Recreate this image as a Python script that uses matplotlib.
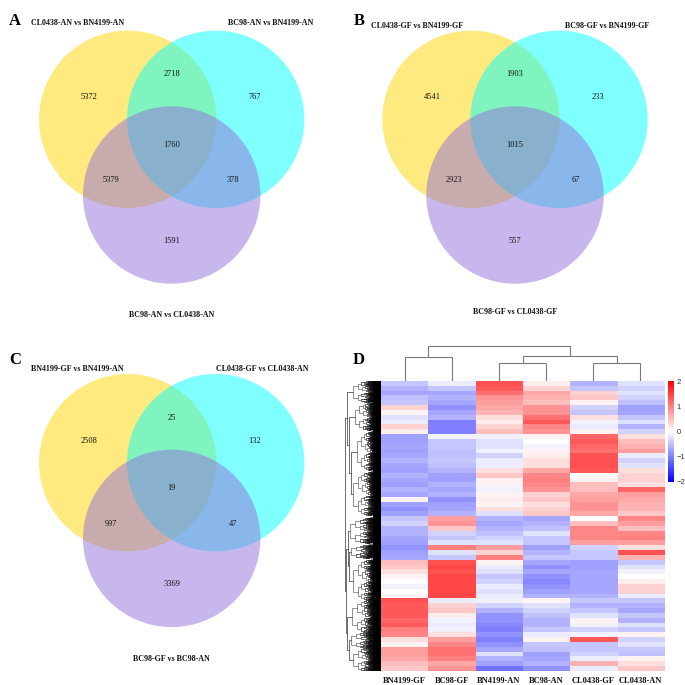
# panels A-C: three-set venn diagrams, panel D: clustered heatmap of expression
import matplotlib
matplotlib.use("Agg")
import matplotlib.pyplot as plt
from matplotlib.colors import LinearSegmentedColormap
from matplotlib.patches import Circle, Rectangle
import numpy as np

plt.rcParams["font.family"] = ["Liberation Serif", "DejaVu Serif"]

# venn counts, order: left only, left+right, right only, all, left+bottom, right+bottom, bottom only
counts_a = [5372, 2718, 767, 1760, 5379, 378, 1591]
counts_b = [4541, 1903, 233, 1015, 2923, 67, 557]
counts_c = [2508, 25, 132, 19, 997, 47, 3369]

names_a = ["CL0438-AN vs BN4199-AN", "BC98-AN vs BN4199-AN", "BC98-AN vs CL0438-AN"]
names_b = ["CL0438-GF vs BN4199-GF", "BC98-GF vs BN4199-GF", "BC98-GF vs CL0438-GF"]
names_c = ["BN4199-GF vs BN4199-AN", "CL0438-GF vs CL0438-AN", "BC98-GF vs BC98-AN"]

# heatmap columns, read by eye in 60 bands from top to bottom
samples = ["BN4199-GF", "BC98-GF", "BN4199-AN", "BC98-AN", "CL0438-GF", "CL0438-AN"]
bn4199_gf = [-.45, -.6, -.7, -.5, -.45, .35, .1, -.25, -.15, .35, .15, -.75, -.75, -.7, -.75, -.7, -.6, -.7, -.75, -.6,
             -.7, -.75, -.6, -.7, .1, -.75, -.85, -.75, -.45, -.35, -.6, -.6, -.7, -.75, -.85, -.75, -.7, .5, .45, .25,
             .1, 0, -.1, 0, .1, 1.35, 1.3, 1.3, 1.3, 1.2, 1.3, 1.0, .95, .25, .1, .75, .75, .7, .5, .45]
bc98_gf = [-.15, -.45, -.7, -.6, -.7, -.85, -.7, -.6, -1.0, -1.0, -1.0, -.1, -.45, -.45, -.5, -.5, -.45, -.5, -.6, -.75,
           -.75, -.6, -.7, -.6, -.85, -.75, -.7, -.6, .75, .85, .45, -.35, -.45, -.25, 1.0, -.25, -.45, 1.35, 1.45, 1.35,
           1.45, 1.45, 1.45, 1.45, 1.45, -.15, .35, .45, .15, -.1, -.15, -.1, .25, .75, .95, 1.1, 1.1, 1.0, .7, .85]
bn4199_an = [1.35, 1.3, 1.1, .85, .75, .7, .6, .25, .15, .35, .5, -.1, -.25, -.25, -.1, -.35, -.15, -.15, .25, .45,
             .1, .1, -.1, .1, .15, .1, .25, -.25, -.6, -.7, -.6, -.5, -.35, -.25, .75, .35, 1.0, .1, -.15, -.25,
             -.45, -.35, -.15, -.25, -.15, -.1, -.35, -.6, -.85, -.85, -.95, -1.0, -.85, -1.0, -.85, -.7, -.25, -.6, -.75, -1.1]
bc98_an = [.15, .35, .7, .6, .5, .85, .85, 1.1, 1.3, .95, .85, .1, 0, -.1, .1, .15, .25, .25, .7, .95,
           1.0, .95, .85, .35, .45, .25, .35, .45, -.7, -.6, -.5, -.25, -.45, -.45, -.75, -.6, -.45, -.7, -.85, -.7,
           -.85, -.95, -.85, -.75, -.6, .1, -.25, -.35, -.5, -.6, -.6, -.45, -.15, .1, -.45, -.5, -.75, -.7, -.6, -.85]
cl0438_gf = [-.6, -.45, .35, .45, .1, -.35, -.45, .25, -.1, -.15, .1, 1.2, 1.3, 1.2, 1.1, 1.35, 1.35, 1.35, 1.3, 0,
             .1, .5, .5, .7, .75, .85, .85, .7, 0, .5, .95, .95, .95, .75, -.35, -.45, -.45, -.75, -.75, -.7,
             -.7, -.7, -.7, -.7, -.6, -.45, -.6, -.45, -.25, .1, -.1, -.35, -.1, 1.3, -.45, -.45, -.35, -.15, .6, -.15]
cl0438_an = [-.25, -.35, -.25, -.35, -.5, -.75, -.7, -.45, -.25, -.6, -.35, .25, .5, .6, .75, -.15, -.35, -.25, .25, .35,
             .35, .25, 1.2, .75, .7, .6, .6, .45, .95, .75, .5, .95, 1.0, .75, .25, 1.35, .6, -.45, -.25, -.1,
             0, .15, .35, .35, -.15, -.45, -.6, -.7, -.45, -.6, -.25, -.45, .1, -.35, -.25, -.45, -.5, .1, .25, .45]

# merge heights of the sample tree
merge_left = 24.5
merge_mid = 18.5
merge_right = 18.5
merge_mid_right = 25.5
merge_root = 35.5

FONT_LABEL = 5.8
SIZE = 685


# axes placed with pixel coordinates of the image (y from the top)
def axes_px(x0, y0, x1, y1):
    return fig.add_axes([x0 / SIZE, 1 - y1 / SIZE, (x1 - x0) / SIZE, (y1 - y0) / SIZE])


# one venn panel, cx is the middle of the bottom circle, top the y of the two upper circles
def draw_venn(ax, cx, top, counts, names, name_y, name_x):
    centers = [(cx - 44, top), (cx + 44, top), (cx, top + 75.7)]
    for centro, colore in zip(centers, ["gold", "cyan", "mediumpurple"]):
        ax.add_patch(Circle(centro, 88.7, facecolor=colore, edgecolor="none", alpha=0.5))

    offsets = [(-83, -22), (0, -45), (83, -22), (0, 25.5), (-61, 61), (61, 61), (0, 121.5)]
    for valore, (dx, dy) in zip(counts, offsets):
        ax.text(cx + dx, top + dy, str(valore), ha="center", va="center", fontsize=6, color="#111111")

    for nome, x, y in zip(names, name_x, name_y):
        ax.text(x, y, nome, ha="center", va="center", fontsize=FONT_LABEL, fontweight="bold", color="#111111")


fig = plt.figure(figsize=(6.85, 6.85), dpi=100)

# full figure axes for the venn panels and panel letters
sfondo = fig.add_axes([0, 0, 1, 1])
sfondo.set_xlim(0, SIZE)
sfondo.set_ylim(SIZE, 0)
sfondo.axis("off")

draw_venn(sfondo, 171.7, 119.3, counts_a, names_a, [23, 23, 315], [78, 271, 172])
draw_venn(sfondo, 515, 119.3, counts_b, names_b, [26, 26, 312], [417.5, 607, 515])
draw_venn(sfondo, 171.7, 462.7, counts_c, names_c, [369.3, 369.3, 659.3], [77, 262.7, 171.7])

for lettera, x, y in [("A", 15, 21), ("B", 359, 21), ("C", 15, 360), ("D", 359, 360)]:
    sfondo.text(x, y, lettera, ha="center", va="center", fontsize=12, fontweight="bold", color="black")

# heatmap
matrice = np.array([bn4199_gf, bc98_gf, bn4199_an, bc98_an, cl0438_gf, cl0438_an]).T
cmap = LinearSegmentedColormap.from_list("blu_rosso", ["#0000ff", "#ffffff", "#ff0000"])
ax_heat = axes_px(381, 381, 664, 671)
im = ax_heat.imshow(matrice, aspect="auto", cmap=cmap, vmin=-2, vmax=2, interpolation="nearest")
ax_heat.set_xticks(range(len(samples)))
ax_heat.set_xticklabels(samples, fontsize=6, fontweight="bold", color="#111111")
ax_heat.set_yticks([])
ax_heat.tick_params(axis="x", length=0, pad=4.5)
for lato in ax_heat.spines.values():
    lato.set_visible(False)

# colorbar
ax_bar = axes_px(667.5, 381, 674, 482)
barra = fig.colorbar(im, cax=ax_bar, ticks=[-2, -1, 0, 1, 2])
barra.outline.set_visible(False)
barra.ax.tick_params(length=0, pad=1.8, labelsize=5.5, labelcolor="#333333")
for etichetta in barra.ax.get_yticklabels():
    etichetta.set_family("Liberation Sans")

# sample tree above the heatmap
ax_top = axes_px(381, 340, 664, 381)
ax_top.set_xlim(-0.5, 5.5)
ax_top.set_ylim(0, 41)
ax_top.axis("off")
TREE_GREY = "#7a7a7a"


def bracket(ax, x0, h0, x1, h1, top):
    ax.plot([x0, x0, x1, x1], [h0, top, top, h1], color=TREE_GREY, lw=0.8, solid_joinstyle="miter")


bracket(ax_top, 0, 0, 1, 0, merge_left)
bracket(ax_top, 2, 0, 3, 0, merge_mid)
bracket(ax_top, 4, 0, 5, 0, merge_right)
bracket(ax_top, 2.5, merge_mid, 4.5, merge_right, merge_mid_right)
bracket(ax_top, 0.5, merge_left, 3.5, merge_mid_right, merge_root)

# gene tree on the left, drawn in pixel coordinates
ax_tree = axes_px(340, 381, 381, 671)
ax_tree.set_xlim(340, 381)
ax_tree.set_ylim(671, 381)
ax_tree.axis("off")
SPLITS = [0.55, 0.42, 0.6, 0.47, 0.52, 0.38]


# fine branches of one cluster, returns the y where the parent attaches
def draw_cluster(y0, y1, x, livello=0):
    if y1 - y0 < 0.3:
        ax_tree.plot([x, 381], [y0, y0], color="black", lw=0.35)
        return y0
    cut = y0 + (y1 - y0) * SPLITS[livello % len(SPLITS)]
    next_x = x + (372 - x) * 0.22 + 0.5
    ya = draw_cluster(y0, cut, next_x, livello + 1)
    yb = draw_cluster(cut, y1, next_x + (0.8 if livello % 2 else 0), livello + 2)
    grigio = "#666666" if y1 - y0 > 6 else "#222222"
    ax_tree.plot([next_x, x, x, next_x], [ya, ya, yb, yb], color=grigio, lw=0.5)
    return (ya + yb) / 2


# main branches: [x, child, child], a tuple is a cluster (y top, y bottom, x)
gene_tree = [345,
             [347,
              (381, 402, 353),
              [349,
               (403, 430, 355),
               [351, (432, 470, 357), (472, 515, 353)]]],
             [346,
              [348,
               (518, 543, 350),
               [349, (545, 558, 351), (560, 600, 353)]],
              [347,
               (600, 632, 352),
               [349, (632, 648, 351), (648, 671, 353)]]]]


def draw_node(node):
    if isinstance(node, tuple):
        return draw_cluster(node[0], node[1], node[2]), node[2]
    x = node[0]
    (ya, xa), (yb, xb) = draw_node(node[1]), draw_node(node[2])
    ax_tree.plot([xa, x, x, xb], [ya, ya, yb, yb], color="#555555", lw=0.6)
    return (ya + yb) / 2, x


draw_node(gene_tree)
ax_tree.add_patch(Rectangle((373, 381), 8, 290, facecolor="black", edgecolor="none"))

fig.savefig("out.png", dpi=100)
